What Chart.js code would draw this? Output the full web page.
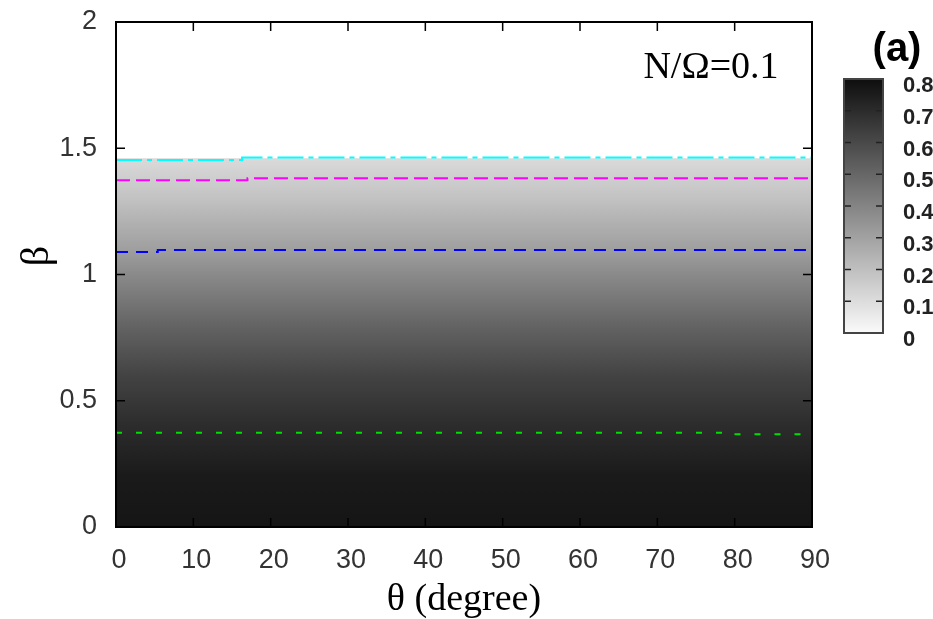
<!DOCTYPE html>
<html>
<head>
<meta charset="utf-8">
<script src="https://cdn.jsdelivr.net/npm/chart.js@4.4.1/dist/chart.umd.min.js"></script>
<style>
  html, body { margin: 0; padding: 0; background: #fff; }
  #wrap { position: relative; width: 933px; height: 619px; }
  #main { position: absolute; left: 0; top: 0; }
  #cbar { position: absolute; left: 830px; top: 60px; }
</style>
</head>
<body>
<div id="wrap">
  <canvas id="main" width="933" height="619"></canvas>
  <canvas id="cbar" width="103" height="300"></canvas>
</div>
<script>
// axes
const thetaTicks = [0, 10, 20, 30, 40, 50, 60, 70, 80, 90];
const betaTicks = [0, 0.5, 1, 1.5, 2];
const cbarTicks = [0, 0.1, 0.2, 0.3, 0.4, 0.5, 0.6, 0.7, 0.8];

// gray field (same for every theta), value vs beta; white above fieldTop
const fieldBeta = [0, 0.2, 0.4, 0.6, 0.8, 1.0, 1.1, 1.2, 1.3, 1.4, 1.46];
const fieldValue = [0.775, 0.76, 0.70, 0.62, 0.51, 0.38, 0.31, 0.25, 0.19, 0.14, 0.11];
const fieldTheta = [0, 90];
const fieldTop = [1.46, 1.46];

// contour lines
const cyanTheta = [0, 16.3, 16.3, 90];
const cyanBeta = [1.453, 1.453, 1.463, 1.463];
const magentaTheta = [0, 17, 17, 90];
const magentaBeta = [1.373, 1.373, 1.381, 1.381];
const blueTheta = [0, 5.4, 5.4, 90];
const blueBeta = [1.089, 1.089, 1.097, 1.097];
const greenTheta = [0, 78.4, 78.4, 90];
const greenBeta = [0.373, 0.373, 0.367, 0.367];

const toPts = (xs, ys) => xs.map((x, i) => ({ x: x, y: ys[i] }));

// gnuplot-like gray palette, 0 -> white, 0.8 -> black
function gray(v) {
  const g = Math.round(250 - v / 0.8 * 236);
  return 'rgb(' + g + ',' + g + ',' + g + ')';
}

function noPad(s) {
  s.paddingTop = 0; s.paddingBottom = 0;
  s.paddingLeft = 0; s.paddingRight = 0;
}

function fieldGradient(chart) {
  const area = chart.chartArea;
  if (!area) return '#888';
  const y = chart.scales.y;
  const y0 = y.getPixelForValue(fieldBeta[0]);
  const y1 = y.getPixelForValue(fieldBeta[fieldBeta.length - 1]);
  const g = chart.ctx.createLinearGradient(0, y0, 0, y1);
  fieldBeta.forEach((b, i) => {
    const p = (y.getPixelForValue(b) - y0) / (y1 - y0);
    g.addColorStop(Math.min(1, Math.max(0, p)), gray(fieldValue[i]));
  });
  return g;
}

function line(name, xs, ys, color, dash) {
  return {
    label: name,
    data: toPts(xs, ys),
    borderColor: color,
    borderWidth: 2,
    borderDash: dash,
    pointRadius: 0,
    fill: false,
    tension: 0,
    order: 1
  };
}

const frameTicks = {
  id: 'frameTicks',
  afterDatasetsDraw(chart) {
    const { ctx, chartArea: a, scales: { x, y } } = chart;
    ctx.save();
    ctx.strokeStyle = '#000';
    ctx.lineWidth = 1.5;
    ctx.beginPath();
    x.ticks.forEach(t => {
      const px = x.getPixelForValue(t.value);
      ctx.moveTo(px, a.bottom); ctx.lineTo(px, a.bottom - 9);
      ctx.moveTo(px, a.top); ctx.lineTo(px, a.top + 9);
    });
    y.ticks.forEach(t => {
      const py = y.getPixelForValue(t.value);
      ctx.moveTo(a.left, py); ctx.lineTo(a.left + 9, py);
      ctx.moveTo(a.right, py); ctx.lineTo(a.right - 9, py);
    });
    ctx.stroke();
    ctx.lineWidth = 2;
    ctx.strokeRect(a.left, a.top, a.width, a.height);
    ctx.restore();
  },
  afterDraw(chart) {
    const ctx = chart.ctx;
    ctx.save();
    ctx.fillStyle = '#000';
    ctx.textAlign = 'center';
    ctx.textBaseline = 'middle';
    ctx.font = '38px "Liberation Serif", serif';
    ctx.fillText('N/Ω=0.1', 711, 68);
    ctx.font = 'bold 40px "Liberation Sans", Arial, sans-serif';
    ctx.fillText('(a)', 897, 50);
    // y axis title
    ctx.translate(37, 256);
    ctx.rotate(-Math.PI / 2);
    ctx.font = '40px "Liberation Serif", serif';
    ctx.fillText('β', 0, 0);
    ctx.restore();
  }
};

new Chart(document.getElementById('main'), {
  type: 'line',
  data: {
    datasets: [
      line('cyan', cyanTheta, cyanBeta, '#00ffff', [26, 5, 5, 5]),
      line('magenta', magentaTheta, magentaBeta, '#ff00ff', [14, 6]),
      line('blue', blueTheta, blueBeta, '#0000ff', [12, 8]),
      line('green', greenTheta, greenBeta, '#00e000', [6, 14]),
      {
        label: 'field',
        data: toPts(fieldTheta, fieldTop),
        borderWidth: 0,
        pointRadius: 0,
        fill: 'origin',
        backgroundColor: ctx => fieldGradient(ctx.chart),
        order: 10
      }
    ]
  },
  options: {
    responsive: false,
    animation: false,
    layout: { padding: { top: 22, right: 121, left: 0, bottom: 0 } },
    plugins: { legend: { display: false }, tooltip: { enabled: false } },
    scales: {
      x: {
        type: 'linear',
        min: 0, max: 90,
        afterBuildTicks: s => { s.ticks = thetaTicks.map(v => ({ value: v })); },
        afterFit: s => { s.height = 92; noPad(s); },
        grid: { display: false },
        border: { display: false },
        ticks: {
          padding: 9, labelOffset: 3, color: '#333', maxRotation: 0,
          font: { family: '"Liberation Sans", Arial, sans-serif', size: 27 }
        },
        title: {
          display: true, text: 'θ (degree)', color: '#000',
          padding: { top: 0, bottom: 0 },
          font: { family: '"Liberation Serif", serif', size: 38, lineHeight: 1.0 }
        }
      },
      y: {
        type: 'linear',
        min: 0, max: 2,
        afterBuildTicks: s => { s.ticks = betaTicks.map(v => ({ value: v })); },
        afterFit: s => { s.width = 116; noPad(s); },
        grid: { display: false },
        border: { display: false },
        ticks: {
          padding: 11, color: '#333',
          callback: v => String(v),
          font: { family: '"Liberation Sans", Arial, sans-serif', size: 27 }
        }
      }
    }
  },
  plugins: [frameTicks]
});

// colour bar
function cbarGradient(chart) {
  const area = chart.chartArea;
  if (!area) return '#888';
  const y = chart.scales.y;
  const lo = cbarTicks[0], hi = cbarTicks[cbarTicks.length - 1];
  const g = chart.ctx.createLinearGradient(0, y.getPixelForValue(lo), 0, y.getPixelForValue(hi));
  g.addColorStop(0, gray(lo));
  g.addColorStop(1, gray(hi));
  return g;
}

const cbarFrame = {
  id: 'cbarFrame',
  afterDatasetsDraw(chart) {
    const { ctx, chartArea: a, scales: { y } } = chart;
    ctx.save();
    ctx.strokeStyle = '#222';
    ctx.lineWidth = 1.5;
    ctx.beginPath();
    y.ticks.forEach(t => {
      const py = y.getPixelForValue(t.value);
      ctx.moveTo(a.left, py); ctx.lineTo(a.left + 7, py);
      ctx.moveTo(a.right, py); ctx.lineTo(a.right - 7, py);
    });
    ctx.stroke();
    ctx.strokeStyle = '#444';
    ctx.lineWidth = 2;
    ctx.strokeRect(a.left, a.top, a.width, a.height);
    ctx.restore();
  }
};

new Chart(document.getElementById('cbar'), {
  type: 'bar',
  data: {
    labels: [''],
    datasets: [{
      data: [[cbarTicks[0], cbarTicks[cbarTicks.length - 1]]],
      backgroundColor: ctx => cbarGradient(ctx.chart),
      borderWidth: 0,
      barPercentage: 1,
      categoryPercentage: 1
    }]
  },
  options: {
    responsive: false,
    animation: false,
    layout: { padding: { left: 14, top: 19, bottom: 27, right: 0 } },
    plugins: { legend: { display: false }, tooltip: { enabled: false } },
    scales: {
      x: { display: false },
      y: {
        position: 'right',
        min: 0, max: 0.8,
        afterBuildTicks: s => { s.ticks = cbarTicks.map(v => ({ value: v })); },
        afterFit: s => { s.width = 50; noPad(s); },
        grid: { display: false },
        border: { display: false },
        ticks: {
          padding: 12, labelOffset: 7, color: '#222',
          font: { family: '"Liberation Sans", Arial, sans-serif', size: 22, weight: 'bold' }
        }
      }
    }
  },
  plugins: [cbarFrame]
});
</script>
</body>
</html>
